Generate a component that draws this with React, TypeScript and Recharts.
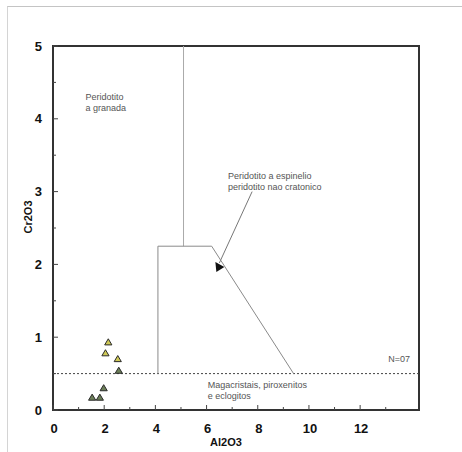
import React from 'react';
import {
  ScatterChart,
  Scatter,
  XAxis,
  YAxis,
  ReferenceLine,
  ReferenceArea,
  ReferenceDot,
} from 'recharts';

const X_MAX = 14.3;
const Y_MAX = 5;
const xTicks = [0, 1, 2, 3, 4, 5, 6, 7, 8, 9, 10, 11, 12, 13];
const xLabelTicks = [0, 2, 4, 6, 8, 10, 12];
const yTicks = [0, 0.5, 1, 1.5, 2, 2.5, 3, 3.5, 4, 4.5, 5];
const yLabelTicks = [0, 1, 2, 3, 4, 5];

// field boundaries
const garnetBoundary = [
  { x: 5.1, y: 5 },
  { x: 5.1, y: 2.25 },
];
const spinelBoundary = [
  { x: 4.1, y: 0.5 },
  { x: 4.1, y: 2.25 },
  { x: 6.2, y: 2.25 },
  { x: 9.4, y: 0.5 },
];
const eclogiteLimit = 0.5;

// samples (Al2O3, Cr2O3)
const highCrAl = [2.16, 2.05, 2.53];
const highCrCr = [0.93, 0.78, 0.7];
const lowCrAl = [2.57, 1.98, 1.53, 1.83];
const lowCrCr = [0.54, 0.3, 0.17, 0.17];

const arrowSegment = [
  { x: 7.78, y: 3.0 },
  { x: 6.5, y: 2.02 },
];

const fieldLabels = [
  { x: 1.27, y: 4.26, lines: ['Peridotito', 'a granada'] },
  { x: 6.84, y: 3.17, lines: ['Peridotito a espinelio', 'peridotito nao cratonico'] },
  { x: 6.05, y: 0.3, lines: ['Magacristais, piroxenitos', 'e eclogitos'] },
  { x: 13.1, y: 0.66, lines: ['N=07'] },
];

const highCr = highCrAl.map((x, i) => ({ x, y: highCrCr[i] }));
const lowCr = lowCrAl.map((x, i) => ({ x, y: lowCrCr[i] }));

const FONT = '"Liberation Sans", Arial, sans-serif';

const XTick = (props: any) => {
  const { x, y, payload } = props;
  const v = payload.value;
  const major = xLabelTicks.includes(v);
  return (
    <g>
      <line x1={x} x2={x} y1={y} y2={y - (major ? 5 : 3)} stroke="#444" strokeWidth={1} />
      {major && (
        <text x={x + 1} y={y + 23} textAnchor="middle" fontSize={13} fontWeight="bold" fill="#111" fontFamily={FONT}>
          {v}
        </text>
      )}
    </g>
  );
};

const YTick = (props: any) => {
  const { x, y, payload } = props;
  const v = payload.value;
  const major = yLabelTicks.includes(v);
  return (
    <g>
      <line x1={x} x2={x + (major ? 5 : 3)} y1={y} y2={y} stroke="#444" strokeWidth={1} />
      {major && (
        <text x={x - 11} y={y + 4.5} textAnchor="end" fontSize={13} fontWeight="bold" fill="#111" fontFamily={FONT}>
          {v}
        </text>
      )}
    </g>
  );
};

const Triangle = (fill: string) => (props: any) => {
  const { cx, cy } = props;
  return (
    <polygon
      points={`${cx},${cy - 3.5} ${cx + 3.6},${cy + 2.6} ${cx - 3.6},${cy + 2.6}`}
      fill={fill}
      stroke="#2a2a2a"
      strokeWidth={1}
    />
  );
};

const multiLabel = (lines: string[]) => (props: any) => {
  const { viewBox } = props;
  return (
    <text x={viewBox.x} y={viewBox.y} fontSize={9} fill="#555" fontFamily={FONT}>
      {lines.map((l, i) => (
        <tspan key={i} x={viewBox.x} dy={i === 0 ? 0 : 11}>
          {l}
        </tspan>
      ))}
    </text>
  );
};

const ArrowShape = (p: any) => (
  <g>
    <line x1={p.x1} y1={p.y1} x2={p.x2} y2={p.y2} stroke="#777" strokeWidth={1} />
    <polygon
      points={`${p.x2 - 4},${p.y2 - 1} ${p.x2 + 5},${p.y2 + 4} ${p.x2 - 3},${p.y2 + 9}`}
      fill="#111"
    />
  </g>
);

const NoDot = () => <g />;

export default function App() {
  return (
    <div style={{ position: 'absolute', left: 0, top: 0, width: 462, height: 452, background: '#fff' }}>
      <div
        style={{
          position: 'absolute',
          left: 7,
          top: 6,
          right: 0,
          bottom: 0,
          borderTop: '1px solid #c4c4c4',
          borderLeft: '1px solid #d4d4d4',
        }}
      />
      <div style={{ position: 'absolute', left: 0, top: 0 }}>
        <ScatterChart width={462} height={452} margin={{ top: 46, right: 43, bottom: 0, left: 0 }}>
          <XAxis
            dataKey="x"
            type="number"
            domain={[0, X_MAX]}
            ticks={xTicks}
            interval={0}
            height={42}
            axisLine={false}
            tickLine={false}
            tickSize={0}
            tickMargin={0}
            tick={<XTick />}
            allowDataOverflow
            label={(props: any) => {
              const vb = props.viewBox;
              return (
                <text x={vb.x + 173} y={vb.y + 36} textAnchor="middle" fontSize={11} fontWeight="bold" fill="#111" fontFamily={FONT}>
                  Al2O3
                </text>
              );
            }}
          />
          <YAxis
            dataKey="y"
            type="number"
            domain={[0, Y_MAX]}
            ticks={yTicks}
            interval={0}
            width={53}
            axisLine={false}
            tickLine={false}
            tickSize={0}
            tickMargin={0}
            tick={<YTick />}
            allowDataOverflow
            label={(props: any) => {
              const vb = props.viewBox;
              const cx = vb.x + 28;
              const cy = vb.y + 171;
              return (
                <text
                  x={cx}
                  y={cy}
                  textAnchor="middle"
                  dominantBaseline="central"
                  transform={`rotate(-90, ${cx}, ${cy})`}
                  fontSize={11}
                  fontWeight="bold"
                  fill="#111"
                  fontFamily={FONT}
                >
                  Cr2O3
                </text>
              );
            }}
          />
          <ReferenceLine y={eclogiteLimit} stroke="#444" strokeWidth={1} strokeDasharray="2 2" />
          <Scatter
            data={garnetBoundary}
            line={{ stroke: '#aaa', strokeWidth: 1 }}
            shape={NoDot}
            legendType="none"
            isAnimationActive={false}
          />
          <Scatter
            data={spinelBoundary}
            line={{ stroke: '#8a8a8a', strokeWidth: 1 }}
            shape={NoDot}
            legendType="none"
            isAnimationActive={false}
          />
          <ReferenceLine segment={arrowSegment} shape={ArrowShape} />
          {fieldLabels.map((f, i) => (
            <ReferenceDot
              key={i}
              x={f.x}
              y={f.y}
              r={0}
              fill="none"
              stroke="none"
              label={multiLabel(f.lines)}
            />
          ))}
          <ReferenceArea x1={0} x2={X_MAX} y1={0} y2={Y_MAX} fill="none" stroke="#333" strokeWidth={2} />
          <Scatter data={highCr} shape={Triangle('#cfc956')} isAnimationActive={false} />
          <Scatter data={lowCr} shape={Triangle('#6c7f58')} isAnimationActive={false} />
        </ScatterChart>
      </div>
    </div>
  );
}
